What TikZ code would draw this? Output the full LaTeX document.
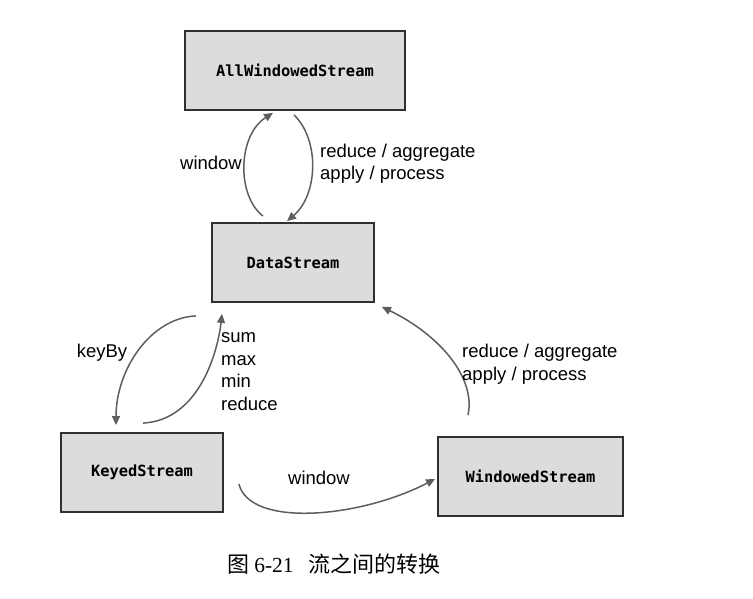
\documentclass[tikz,border=0pt]{standalone}
\usepackage{fontspec}
\setmainfont{Liberation Sans}
\newfontfamily\monob{DejaVu Sans Mono}
\newfontfamily\cjk{Noto Sans CJK SC}
\newfontfamily\capserif{Liberation Serif}
\usetikzlibrary{arrows.meta}
\definecolor{boxfill}{HTML}{DCDCDC}
\definecolor{boxline}{HTML}{303030}
\definecolor{arrowc}{HTML}{5E5E5E}
\tikzset{
  box/.style={draw=boxline, line width=1.8pt, fill=boxfill, minimum height=79pt,
    inner sep=0pt, font=\monob\bfseries\fontsize{15.4pt}{18pt}\selectfont},
  conn/.style={draw=arrowc, line width=1.5pt, -{Triangle[length=9pt,width=8pt]}},
  lbl/.style={font=\fontsize{18.5pt}{22.5pt}\selectfont, inner sep=0pt},
}
\begin{document}
\begin{tikzpicture}[x=1pt,y=-1pt]
\useasboundingbox (0,0) rectangle (753,599);
\node[box, minimum width=220pt] (AW) at (295,70.5) {AllWindowedStream};
\node[box, minimum width=162pt] (DS) at (293,262.5) {DataStream};
\node[box, minimum width=162pt] (KS) at (142,472.5) {KeyedStream};
\node[box, minimum width=185pt] (WS) at (530.5,476.5) {WindowedStream};

% DataStream <-> AllWindowedStream
\draw[conn] ([xshift=-30pt,yshift=6pt]DS.north) .. controls (236,195) and (238,135) .. ([xshift=-22pt,yshift=-2pt]AW.south);
\draw[conn] ([xshift=-1pt,yshift=-4pt]AW.south) .. controls (320,140) and (318,195) .. ([xshift=-6pt,yshift=1pt]DS.north);
\node[lbl] (lw1) at (211,163) {window};
\node[lbl, align=left, anchor=west] (lr1) at (320,163.5) {reduce / aggregate\\apply / process};

% DataStream <-> KeyedStream
\draw[conn] ([xshift=-97pt,yshift=-13pt]DS.south) .. controls (150,318) and (116,370) .. ([xshift=-26pt,yshift=7pt]KS.north);
\draw[conn] ([xshift=1pt,yshift=9pt]KS.north) .. controls (200,420) and (218,350) .. ([xshift=-71pt,yshift=-11pt]DS.south);
\node[lbl] (lk) at (102,353) {keyBy};
\node[lbl, align=left, anchor=west] (ls) at (221,371.5) {sum\\max\\min\\reduce};

% WindowedStream -> DataStream
\draw[conn] ([xshift=-62.5pt,yshift=21pt]WS.north) .. controls (476,378) and (440,335) .. ([xshift=7pt,yshift=-4pt]DS.south east);
\node[lbl, align=left, anchor=west] (lr2) at (462,364) {reduce / aggregate\\apply / process};

% KeyedStream -> WindowedStream
\draw[conn] ([xshift=15pt,yshift=-11.5pt]KS.east) .. controls (250,528) and (360,518) .. ([xshift=-2pt,yshift=-2.5pt]WS.west);
\node[lbl] (lw2) at (319,478) {window};

% caption
\node[inner sep=0pt] (cap) at (334,564) {\cjk\fontsize{22pt}{24pt}\selectfont 图\hspace{5pt}{\capserif\fontsize{21.5pt}{24pt}\selectfont 6-21}\hspace{15pt}流之间的转换};
\end{tikzpicture}
\end{document}
